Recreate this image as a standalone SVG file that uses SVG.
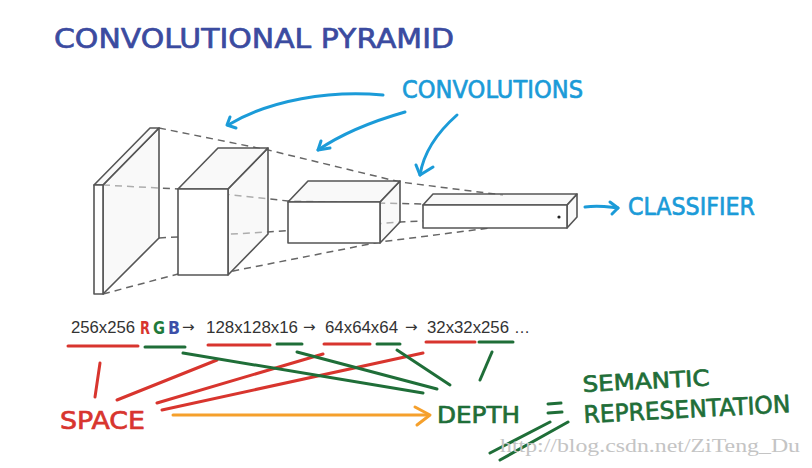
<svg xmlns="http://www.w3.org/2000/svg" width="812" height="468" viewBox="0 0 812 468">
<style>
.hand{font-family:"DejaVu Sans","Liberation Sans",sans-serif;stroke-width:0.7;stroke-linejoin:round;}
.edge{stroke:#555;stroke-width:1.6;stroke-linejoin:round;}
.front{fill:#fff;}
.side{fill:#f3f3f3;fill-opacity:0.5;}
.dash{fill:none;stroke:#666;stroke-width:1.5;stroke-dasharray:7 5;}
.blue{fill:none;stroke:#1b9bd8;stroke-width:3;stroke-linecap:round;stroke-linejoin:round;}
.red{stroke:#d8352e;stroke-width:3;stroke-linecap:round;}
.green{stroke:#1f6e38;stroke-width:3;stroke-linecap:round;}
.num{font-family:"Liberation Sans",Arial,sans-serif;font-size:16px;fill:#333;}
.arr{font-family:"DejaVu Sans",sans-serif;font-size:15px;fill:#333;}
</style>
<rect width="812" height="468" fill="#fff"/>

<text id="title" class="hand" x="54" y="48" font-size="27" fill="#3b4ba0" stroke="#3b4ba0" textLength="400" lengthAdjust="spacingAndGlyphs">CONVOLUTIONAL PYRAMID</text>

<g id="connectors">
  <polyline class="dash" points="159,128 268,150 400,182 503,195"/>
  <polyline class="dash" points="103,185 178,189 288,201 423,204"/>
  <polyline class="dash" points="159,238 268,232 400,222 425,221"/>
  <polyline class="dash" points="103,294 178,274 228,272 380,242 490,228"/>
  <!-- convolution arrows -->
  <path class="blue" d="M383,95 C330,90 270,100 228,125"/>
  <path class="blue" d="M230,117 L227,125 L236,128"/>
  <path class="blue" d="M405,112 C370,122 340,135 318,150"/>
  <path class="blue" d="M321,141 L318,150 L330,148"/>
  <path class="blue" d="M457,115 C440,130 424,150 420,175"/>
  <path class="blue" d="M416,165 L420,175 L433,167"/>
  <path class="blue" d="M585,207 C600,205 608,207 618,208"/>
  <path class="blue" d="M610,202 L618,208 L612,214"/>
  <!-- underlines -->
  <line class="red" x1="68" y1="346" x2="138" y2="346"/>
  <line class="green" x1="145" y1="347" x2="185" y2="347"/>
  <line class="red" x1="208" y1="345" x2="270" y2="345"/>
  <line class="green" x1="277" y1="344" x2="302" y2="344"/>
  <line class="red" x1="324" y1="344" x2="370" y2="344"/>
  <line class="green" x1="377" y1="344" x2="400" y2="344"/>
  <line class="red" x1="426" y1="342" x2="475" y2="342"/>
  <line class="green" x1="479" y1="342" x2="513" y2="342"/>
  <!-- space lines -->
  <line class="red" x1="100" y1="363" x2="95" y2="397"/>
  <line class="red" x1="217" y1="360" x2="117" y2="400"/>
  <line class="red" x1="323" y1="354" x2="157" y2="403"/>
  <line class="red" x1="423" y1="353" x2="162" y2="410"/>
  <!-- depth lines -->
  <line class="green" x1="183" y1="353" x2="423" y2="393"/>
  <line class="green" x1="297" y1="352" x2="437" y2="389"/>
  <line class="green" x1="397" y1="350" x2="450" y2="385"/>
  <line class="green" x1="492" y1="352" x2="480" y2="380"/>
  <!-- orange arrow -->
  <line x1="173" y1="415" x2="428" y2="415" stroke="#f5a02c" stroke-width="3" stroke-linecap="round"/>
  <path d="M415,407 L430,415 L417,425" fill="none" stroke="#f5a02c" stroke-width="3" stroke-linecap="round" stroke-linejoin="round"/>
  <!-- double slash -->
  <line class="green" x1="490" y1="453" x2="550" y2="422"/>
  <line class="green" x1="500" y1="460" x2="568" y2="422"/>
</g>

<g id="slab">
  <polygon class="side edge" points="103,185 159,128 159,238 103,294"/>
  <polygon class="side edge" points="94,185 150,128 159,128 103,185"/>
  <polygon class="front edge" points="94,185 103,185 103,294 94,294"/>
</g>
<g id="cube">
  <polygon class="side edge" points="228,189 268,148 268,234 228,275"/>
  <polygon class="side edge" points="178,189 218,148 268,148 228,189"/>
  <polygon class="front edge" points="178,189 228,189 228,275 178,275"/>
</g>
<g id="box3">
  <polygon class="side edge" points="380,202 400,181 400,222 380,243"/>
  <polygon class="side edge" points="288,202 308,181 400,181 380,202"/>
  <polygon class="front edge" points="288,202 380,202 380,243 288,243"/>
</g>
<g id="box4">
  <polygon class="side edge" points="567,205 577,194 577,217 567,228"/>
  <polygon class="side edge" points="423,205 433,194 577,194 567,205"/>
  <polygon class="front edge" points="423,205 567,205 567,228 423,228"/>
  <circle cx="559" cy="217" r="1.6" fill="#222"/>
</g>

<g id="convolutions-label">
  <text class="hand" x="402" y="98" font-size="25" fill="#1b9bd8" stroke="#1b9bd8" textLength="181" lengthAdjust="spacingAndGlyphs">CONVOLUTIONS</text>
</g>
<g id="classifier-label">
  <text class="hand" x="628" y="215" font-size="24" fill="#1b9bd8" stroke="#1b9bd8" textLength="127" lengthAdjust="spacingAndGlyphs">CLASSIFIER</text>
</g>

<g id="sizes">
  <text class="num" x="71" y="333" textLength="64" lengthAdjust="spacingAndGlyphs">256x256</text>
  <text class="hand" x="140" y="334" font-size="17" font-weight="bold" fill="#d8352e" textLength="10" lengthAdjust="spacingAndGlyphs">R</text>
  <text class="hand" x="153" y="334" font-size="17" font-weight="bold" fill="#1f7a3a" textLength="12" lengthAdjust="spacingAndGlyphs">G</text>
  <text class="hand" x="168" y="334" font-size="17" font-weight="bold" fill="#3c4fa8" textLength="12" lengthAdjust="spacingAndGlyphs">B</text>
  <text class="arr" x="182" y="332">→</text>
  <text class="num" x="206" y="333" textLength="92" lengthAdjust="spacingAndGlyphs">128x128x16</text>
  <text class="arr" x="303" y="332">→</text>
  <text class="num" x="325" y="333" textLength="73" lengthAdjust="spacingAndGlyphs">64x64x64</text>
  <text class="arr" x="405" y="332">→</text>
  <text class="num" x="427" y="333" textLength="82" lengthAdjust="spacingAndGlyphs">32x32x256</text>
  <text class="num" x="514" y="333">…</text>
</g>

<g id="space">
  <text class="hand" x="60" y="429" font-size="25" fill="#d8352e" stroke="#d8352e" textLength="85" lengthAdjust="spacingAndGlyphs">SPACE</text>
</g>
<g id="depth">
  <text class="hand" x="437" y="423" font-size="23" fill="#1f6e38" stroke="#1f6e38" textLength="83" lengthAdjust="spacingAndGlyphs">DEPTH</text>
</g>
<g id="equals">
  <line class="green" x1="548" y1="404" x2="561" y2="403"/>
  <line class="green" x1="548" y1="413" x2="562" y2="412"/>
</g>
<g id="semantic">
  <text class="hand" x="583" y="392" font-size="22" fill="#1f6e38" stroke="#1f6e38" textLength="127" lengthAdjust="spacingAndGlyphs" transform="rotate(-3 583 392)">SEMANTIC</text>
  <text class="hand" x="584" y="423" font-size="24" fill="#1f6e38" stroke="#1f6e38" textLength="207" lengthAdjust="spacingAndGlyphs" transform="rotate(-3 584 423)">REPRESENTATION</text>
</g>

<text x="500" y="452" font-family="Liberation Serif, serif" font-size="18" fill="#c4c4c4" textLength="300" lengthAdjust="spacingAndGlyphs">http://blog.csdn.net/ZiTeng_Du</text>
</svg>
